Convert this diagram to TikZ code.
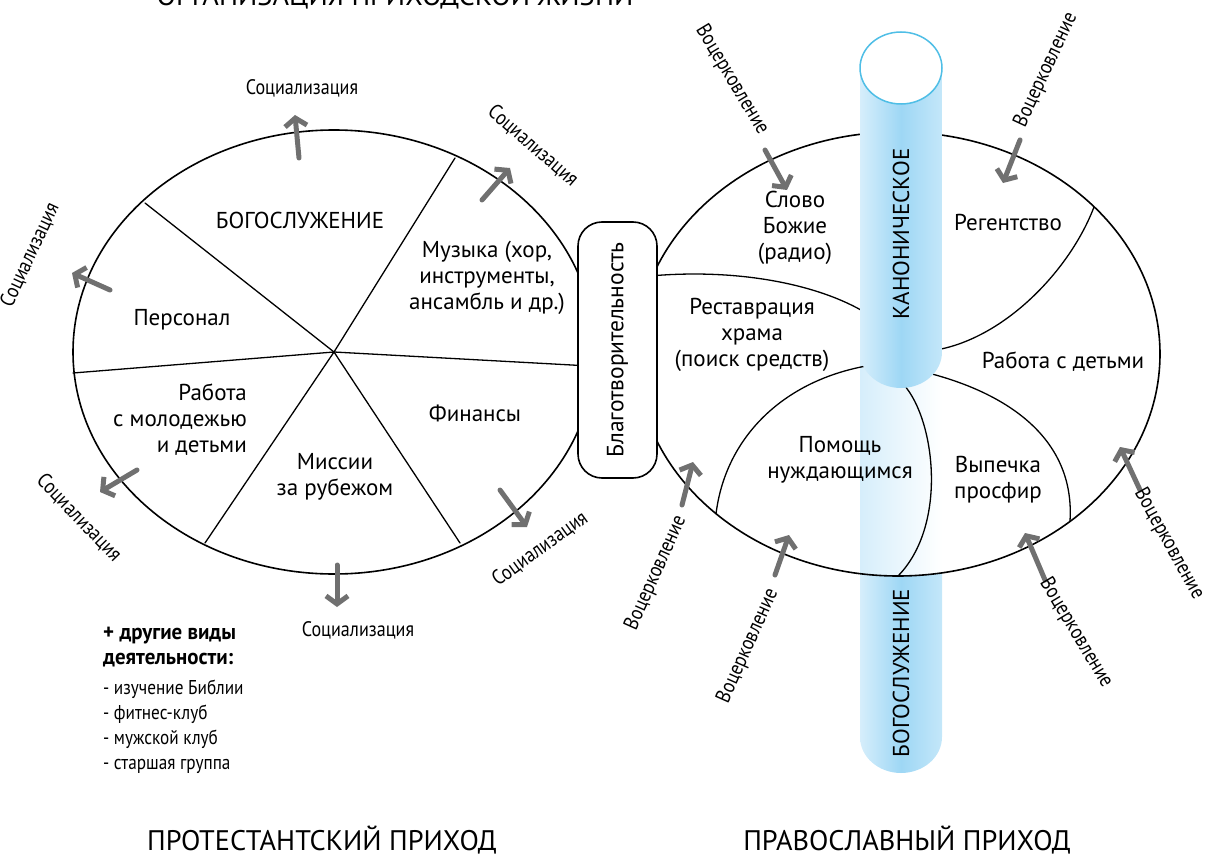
\documentclass[tikz,border=0pt]{standalone}
\usepackage{fontspec}
\setmainfont{PT Sans}
\newfontfamily\narrowfont[FakeStretch=0.86]{PT Sans}
\newfontfamily\narrowboldfont[FakeStretch=0.95]{PT Sans Bold}
\usepackage{tkz-euclide}
\usetikzlibrary{arrows.meta}

\definecolor{arrowgray}{RGB}{112,112,112}
\definecolor{pilL}{RGB}{214,238,251}
\definecolor{pilM}{RGB}{158,215,245}
\definecolor{pilR}{RGB}{196,231,249}
\definecolor{pilEdge}{RGB}{79,190,230}

\tikzset{
  sector/.style={font=\fontsize{23}{26}\selectfont,align=center},
  flowarrow/.style={draw=arrowgray,line width=5pt,-{Straight Barb[length=8pt,width=22pt]}},
  flowlabel/.style={font=\narrowfont\fontsize{21}{25}\selectfont},
  heading/.style={font=\fontsize{28.3}{32}\selectfont},
  pillar/.style={left color=pilL,right color=pilR,middle color=pilM},
  charitybox/.style={draw,line width=1.6pt,rounded corners=24pt,fill=white,
    minimum width=256pt,minimum height=79pt,font=\fontsize{23.5}{26}\selectfont}
}

\begin{document}
\begin{tikzpicture}[x=1pt,y=-1pt]
    \useasboundingbox (0,0) rectangle (1210,856);
    \tkzDefPoints{334/352/O,898/354/Q}
    \tkzDefPoints{145/203/P_1,455/158/P_2,590/366/P_3,73/373/P_4,205/543/P_5,460/543/P_6}
    % protestant parish
    \draw[line width=1.6pt] (O) ellipse [x radius=261,y radius=222];
    \tkzDrawSegments[line width=1.3pt](O,P_1 O,P_2 O,P_3 O,P_4 O,P_5 O,P_6)
    \node[sector] (worship) at (300,220) {БОГОСЛУЖЕНИЕ};
    \node[sector] (music) at (487,278) {Музыка (хор,\\инструменты,\\ансамбль и др.)};
    \node[sector] (staff) at (182,320) {Персонал};
    \node[sector,align=right] (youth) at (180,420) {Работа\\с молодежью\\и детьми};
    \node[sector] (finance) at (475,413) {Финансы};
    \node[sector] (mission) at (335,477) {Миссии\\за рубежом};
    % orthodox parish
    \shade[pillar] (860,500) -- (860,737) arc[start angle=180,end angle=0,x radius=41,y radius=36] -- (942,500) -- cycle;
    \fill[white] (Q) ellipse [x radius=262,y radius=222];
    \begin{scope}
        \clip (Q) ellipse [x radius=262,y radius=222];
        \shade[left color=pilL,right color=white] (860,340) rectangle (942,600);
    \end{scope}
    \draw[line width=1.6pt] (Q) ellipse [x radius=262,y radius=222];
    \draw[line width=1.3pt] (650,276) .. controls (740,268) and (820,285) .. (866,313);
    \draw[line width=1.3pt] (866,366) .. controls (780,382) and (725,440) .. (716,514);
    \draw[line width=1.3pt] (904,385) .. controls (935,420) and (948,525) .. (898,576);
    \draw[line width=1.3pt] (932,374) .. controls (1010,395) and (1075,440) .. (1070,521);
    \draw[line width=1.3pt] (936,350) .. controls (1005,338) and (1070,270) .. (1094,207);
    \shade[pillar] (860,68) -- (860,352) arc[start angle=180,end angle=0,x radius=41,y radius=36] -- (942,68) -- cycle;
    \draw[pilEdge,fill=white,line width=1.5pt] (901,68) ellipse [x radius=41,y radius=36];
    \node[sector,rotate=90] (canon) at (901,234) {КАНОНИЧЕСКОЕ};
    \node[sector,rotate=90] (liturgy) at (901,673) {БОГОСЛУЖЕНИЕ};
    \node[sector] (word) at (795,228) {Слово\\Божие\\(радио)};
    \node[sector] (regent) at (1008,222) {Регентство};
    \node[sector] (restore) at (752,335) {Реставрация\\храма\\(поиск средств)};
    \node[sector] (kids) at (1063,362) {Работа с детьми};
    \node[sector] (help) at (840,460) {Помощь\\нуждающимся};
    \node[sector] (bake) at (998,480) {Выпечка\\просфир};
    \node[charitybox,rotate=90] (charity) at (617.5,350) {Благотворительность};
    % arrows
    \tkzDefPoints{299/158/s_1,482/200/s_2,110/290/s_3,137/470/s_4,337/565/s_5,500/490/s_6}
    \tkzDefPoints{295/115/t_1,510/168/t_2,72/273/t_3,100/492/t_4,337/607/t_5,527/527/t_6}
    \tkzDrawSegments[flowarrow](s_1,t_1 s_2,t_2 s_3,t_3 s_4,t_4 s_5,t_5 s_6,t_6)
    \tkzDefPoints{765/150/u_1,1020/140/u_2,682/505/u_3,775/575/u_4,1045/580/u_5,1140/490/u_6}
    \tkzDefPoints{787/190/v_1,1003/183/v_2,693/462/v_3,789/535/v_4,1025/533/v_5,1120/447/v_6}
    \tkzDrawSegments[flowarrow](u_1,v_1 u_2,v_2 u_3,v_3 u_4,v_4 u_5,v_5 u_6,v_6)
    \foreach \n/\x/\y/\r in {1/302/88/0,2/533/146/-41,3/30/255/65,4/79/518/-46,5/358/630/0,6/540/549/36}{
        \node[flowlabel,rotate=\r] (soc\n) at (\x,\y) {Социализация};
    }
    \foreach \n/\x/\y/\r in {1/732/80/-59,2/1046/70/65,3/656/573/66,4/748/646/66,5/1076/633/-59,6/1169/544/-61}{
        \node[flowlabel,rotate=\r] (voc\n) at (\x,\y) {Воцерковление};
    }
    % other activities
    \node[anchor=north west,align=left,inner sep=0pt,font=\narrowboldfont\fontsize{22}{25}\selectfont] (other) at (103,627) {+ другие виды\\деятельности:};
    \node[anchor=north west,align=left,inner sep=0pt,font=\narrowfont\fontsize{20}{25}\selectfont] (list) at (103,680) {- изучение Библии\\- фитнес-клуб\\- мужской клуб\\- старшая группа};
    % headings
    \node[heading,anchor=base] (title) at (395,6) {ОРГАНИЗАЦИЯ ПРИХОДСКОЙ ЖИЗНИ};
    \node[heading] (prot) at (322,840) {ПРОТЕСТАНТСКИЙ ПРИХОД};
    \node[heading] (orth) at (907,840) {ПРАВОСЛАВНЫЙ ПРИХОД};
\end{tikzpicture}
\end{document}
